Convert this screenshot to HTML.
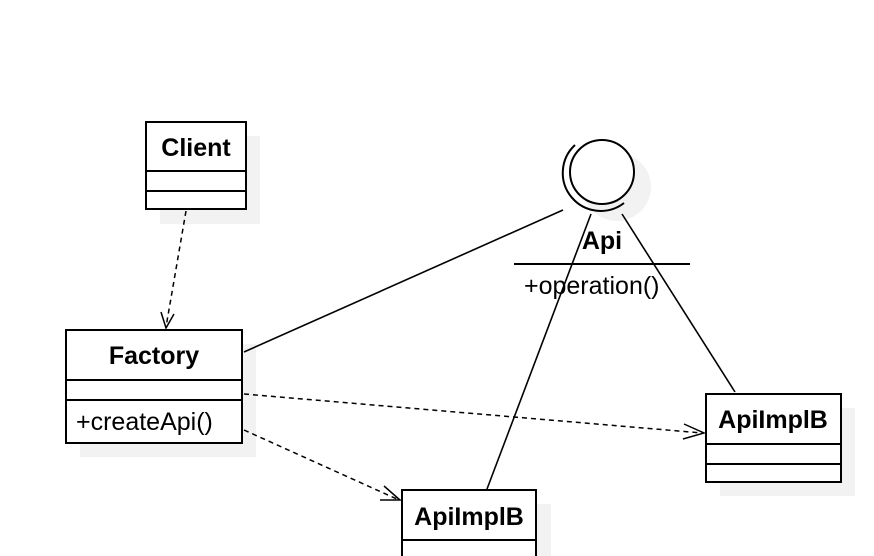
<!DOCTYPE html>
<html><head><meta charset="utf-8"><style>
html,body{margin:0;padding:0;background:#fff;}
svg{display:block;}
text{font-family:"Liberation Sans",sans-serif;fill:#000;}
</style></head><body>
<svg width="874" height="556" viewBox="0 0 874 556" xmlns="http://www.w3.org/2000/svg">
<g fill="#f2f2f2">
<rect x="160" y="136" width="100" height="88"/>
<rect x="80" y="344" width="176" height="113"/>
<rect x="720" y="408" width="135" height="88"/>
<rect x="416" y="504" width="135" height="60"/>
<circle cx="617" cy="187" r="34"/>
</g>
<g fill="#fff" stroke="#000" stroke-width="2">
<rect x="146" y="122" width="100" height="87"/>
<rect x="66" y="330" width="176" height="113"/>
<rect x="706" y="394" width="135" height="88"/>
<rect x="402" y="490" width="134" height="80"/>
<circle cx="602" cy="172" r="32"/>
</g>
<g stroke="#000" stroke-width="2" fill="none">
<line x1="146" y1="171" x2="246" y2="171"/>
<line x1="146" y1="191" x2="246" y2="191"/>
<line x1="66" y1="380" x2="242" y2="380"/>
<line x1="66" y1="400" x2="242" y2="400"/>
<line x1="706" y1="444" x2="841" y2="444"/>
<line x1="706" y1="464" x2="841" y2="464"/>
<line x1="402" y1="540" x2="536" y2="540"/>
<path d="M575 145 A38 38 0 0 0 624 203"/>
<line x1="514" y1="264" x2="690" y2="264"/>
</g>
<g stroke="#000" stroke-width="1.6" fill="none">
<line x1="563" y1="210" x2="244" y2="352"/>
<line x1="591" y1="214" x2="487" y2="489"/>
<line x1="622" y1="214" x2="735" y2="392"/>
</g>
<g stroke="#000" stroke-width="1.5" fill="none" stroke-dasharray="5,4">
<line x1="186" y1="211" x2="166" y2="327"/>
<line x1="244" y1="394" x2="702" y2="433"/>
<line x1="244" y1="430" x2="399" y2="500"/>
</g>
<g stroke="#000" stroke-width="1.5" fill="none">
<path d="M161 312 L166 328 L174 314"/>
<path d="M684 424 L704 433 L683 439"/>
<path d="M384 486 L400 500 L380 500"/>
</g>
<g font-weight="bold" font-size="25" text-anchor="middle">
<text x="196" y="156">Client</text>
<text x="154" y="364">Factory</text>
<text x="773" y="428">ApiImplB</text>
<text x="469" y="525">ApiImplB</text>
<text x="602" y="249">Api</text>
</g>
<g font-size="25">
<text x="76" y="430">+createApi()</text>
<text x="524" y="294">+operation()</text>
</g>
</svg>
</body></html>
